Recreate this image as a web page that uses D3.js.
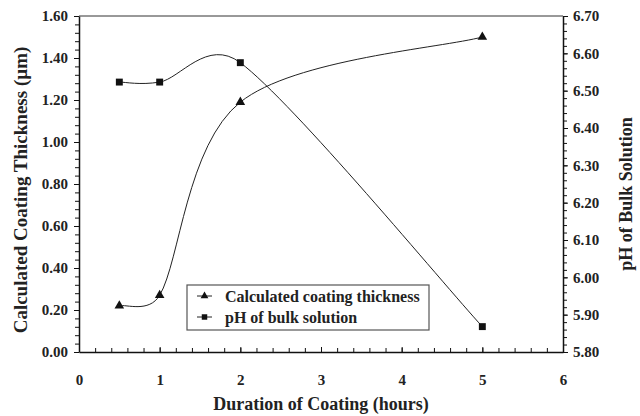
<!DOCTYPE html>
<html>
<head>
<meta charset="utf-8">
<script src="https://cdn.jsdelivr.net/npm/d3@7"></script>
<style>
  body { margin: 0; background: #fff; }
  svg { display: block; }
  text { font-family: "Liberation Serif", "Times New Roman", serif; font-weight: bold; fill: #222; }
  .domain, .tick line { stroke: #111; }
</style>
</head>
<body>
<div id="chart"></div>
<script>
// data
var hours = [0.5, 1, 2, 5];
var thickness = [0.22, 0.27, 1.19, 1.50];
var ph = [6.523, 6.523, 6.575, 5.868];

var leftTicks = [0, 0.2, 0.4, 0.6, 0.8, 1.0, 1.2, 1.4, 1.6];
var rightTicks = [5.8, 5.9, 6.0, 6.1, 6.2, 6.3, 6.4, 6.5, 6.6, 6.7];
var xTicks = [0, 1, 2, 3, 4, 5, 6];

var legendNames = ["Calculated coating thickness", "pH of bulk solution"];

var width = 640, height = 416;
var margin = {top: 16, right: 77, bottom: 64, left: 79};

var svg = d3.select("#chart").append("svg")
    .attr("width", width)
    .attr("height", height);

var x = d3.scaleLinear().domain([0, 6]).range([margin.left, width - margin.right]);
var yL = d3.scaleLinear().domain([0, 1.6]).range([height - margin.bottom, margin.top]);
var yR = d3.scaleLinear().domain([5.8, 6.7]).range([height - margin.bottom, margin.top]);

// spreadsheet-style smoothed line: bezier arms 1/6 of neighbour span, capped at half the segment
function smoothPath(pts) {
    var p = d3.path();
    function dist(a, b){ return Math.hypot(b[0] - a[0], b[1] - a[1]); }
    p.moveTo(pts[0][0], pts[0][1]);
    for (var i = 0; i < pts.length - 1; i++) {
        var p0 = pts[i - 1] || pts[i], p1 = pts[i], p2 = pts[i + 1], p3 = pts[i + 2] || pts[i + 1];
        var d12 = dist(p1, p2), d02 = dist(p0, p2), d13 = dist(p1, p3);
        var f1 = d02 > 0 ? Math.min(1 / 6, 0.5 * d12 / d02) : 0;
        var f2 = d13 > 0 ? Math.min(1 / 6, 0.5 * d12 / d13) : 0;
        p.bezierCurveTo(
            p1[0] + f1 * (p2[0] - p0[0]), p1[1] + f1 * (p2[1] - p0[1]),
            p2[0] - f2 * (p3[0] - p1[0]), p2[1] - f2 * (p3[1] - p1[1]),
            p2[0], p2[1]);
    }
    return p.toString();
}

// top border
svg.append("line")
    .attr("x1", x(0)).attr("x2", x(6))
    .attr("y1", yL(1.6)).attr("y2", yL(1.6))
    .attr("stroke", "#333").attr("stroke-width", 1);

// minor ticks
svg.append("g")
    .attr("transform", "translate(0," + yL(0) + ")")
    .call(d3.axisBottom(x).tickValues(d3.range(0, 6.01, 0.2)).tickSize(-4).tickFormat(""))
    .call(function(g){ g.select(".domain").remove(); });
svg.append("g")
    .attr("transform", "translate(" + x(0) + ",0)")
    .call(d3.axisLeft(yL).tickValues(d3.range(0, 1.601, 0.04)).tickSize(4).tickFormat(""))
    .call(function(g){ g.select(".domain").remove(); });
svg.append("g")
    .attr("transform", "translate(" + x(6) + ",0)")
    .call(d3.axisRight(yR).tickValues(d3.range(5.8, 6.701, 0.02)).tickSize(4).tickFormat(""))
    .call(function(g){ g.select(".domain").remove(); });

// major axes
var xAxis = svg.append("g")
    .attr("transform", "translate(0," + yL(0) + ")")
    .call(d3.axisBottom(x).tickValues(xTicks).tickSize(-5).tickSizeOuter(0).tickPadding(22).tickFormat(d3.format("d")));
var leftAxis = svg.append("g")
    .attr("transform", "translate(" + x(0) + ",0)")
    .call(d3.axisLeft(yL).tickValues(leftTicks).tickSize(5).tickSizeOuter(0).tickPadding(6).tickFormat(d3.format(".2f")));
var rightAxis = svg.append("g")
    .attr("transform", "translate(" + x(6) + ",0)")
    .call(d3.axisRight(yR).tickValues(rightTicks).tickSize(5).tickSizeOuter(0).tickPadding(5).tickFormat(d3.format(".2f")));

[xAxis, leftAxis, rightAxis].forEach(function(g){
    g.selectAll("text").style("font-size", "15px").style("font-family", "Liberation Serif").style("font-weight", "bold").attr("fill", "#222");
    g.select(".domain").attr("stroke-width", 1.5);
});

// axis titles
svg.append("text")
    .attr("x", (x(0) + x(6)) / 2).attr("y", 410)
    .attr("text-anchor", "middle")
    .style("font-size", "18px")
    .text("Duration of Coating (hours)");
svg.append("text")
    .attr("transform", "translate(27,190) rotate(-90)")
    .attr("text-anchor", "middle")
    .style("font-size", "19px")
    .text("Calculated Coating Thickness (\u00b5m)");
svg.append("text")
    .attr("transform", "translate(632,194) rotate(-90)")
    .attr("text-anchor", "middle")
    .style("font-size", "18px")
    .text("pH of Bulk Solution");

// lines
var thickPts = hours.map(function(h, i){ return [x(h), yL(thickness[i])]; });
var phPts = hours.map(function(h, i){ return [x(h), yR(ph[i])]; });

svg.append("path")
    .attr("fill", "none").attr("stroke", "#222").attr("stroke-width", 1)
    .attr("d", smoothPath(thickPts));

svg.append("path")
    .attr("fill", "none").attr("stroke", "#222").attr("stroke-width", 1)
    .attr("d", smoothPath(phPts));

var tri = d3.symbol().type(d3.symbolTriangle).size(40);
var sq = d3.symbol().type(d3.symbolSquare).size(48);

svg.selectAll(".tri").data(thickPts).enter().append("path")
    .attr("class", "tri")
    .attr("d", tri)
    .attr("fill", "#111")
    .attr("transform", function(d){ return "translate(" + d[0] + "," + d[1] + ")"; });

svg.selectAll(".sq").data(phPts).enter().append("path")
    .attr("class", "sq")
    .attr("d", sq)
    .attr("fill", "#111")
    .attr("transform", function(d){ return "translate(" + d[0] + "," + d[1] + ")"; });

// legend
var legend = svg.append("g").attr("transform", "translate(187,285)");
legend.append("rect")
    .attr("width", 242).attr("height", 45)
    .attr("fill", "#fff").attr("stroke", "#555").attr("stroke-width", 1.2);

var rows = legend.selectAll(".row").data(legendNames).enter().append("g")
    .attr("transform", function(d, i){ return "translate(0," + (11 + i * 21) + ")"; });
rows.append("line")
    .attr("x1", 10).attr("x2", 25)
    .attr("stroke", "#222").attr("stroke-width", 1);
rows.append("path")
    .attr("d", function(d, i){ return i === 0 ? d3.symbol().type(d3.symbolTriangle).size(26)() : d3.symbol().type(d3.symbolSquare).size(30)(); })
    .attr("transform", "translate(17.5,0)")
    .attr("fill", "#111");
rows.append("text")
    .attr("x", 38).attr("dy", "0.35em")
    .style("font-size", "16px")
    .text(function(d){ return d; });
</script>
</body>
</html>
